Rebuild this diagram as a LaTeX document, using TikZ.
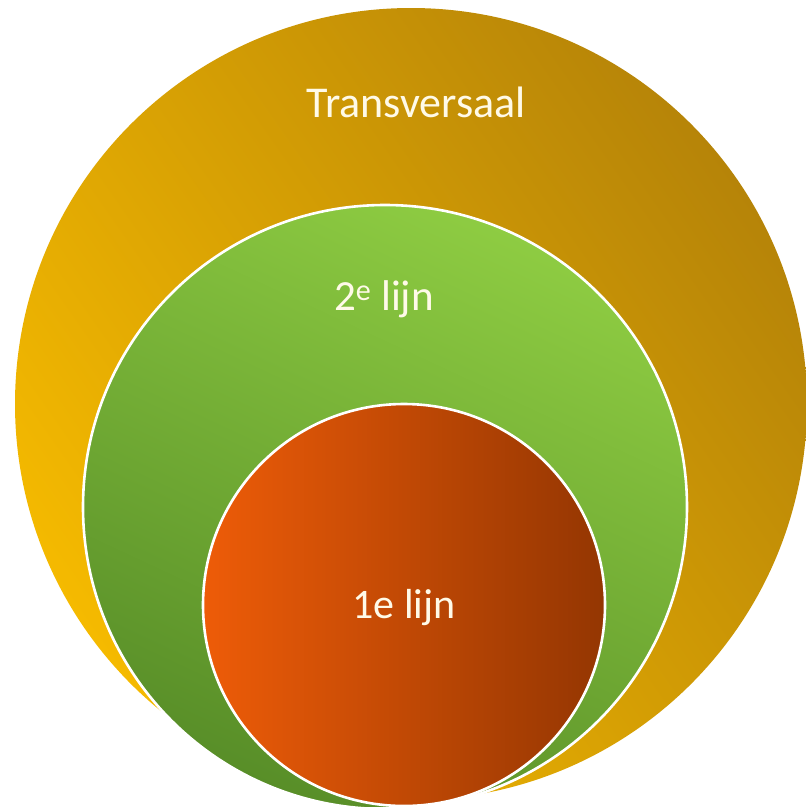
\documentclass[tikz,border=0pt]{standalone}
\usepackage{fontspec}
\setmainfont{Carlito}
\definecolor{goldL}{RGB}{245,186,0}
\definecolor{goldD}{RGB}{182,132,8}
\definecolor{greenL}{RGB}{142,204,66}
\definecolor{greenD}{RGB}{88,142,40}
\definecolor{redL}{RGB}{238,92,8}
\definecolor{redD}{RGB}{148,54,2}
\definecolor{txt}{RGB}{255,250,232}
\tikzset{
  ring/.style={draw=white, line width=2.6pt},
  lbl/.style={text=txt, inner sep=0pt, anchor=base}
}
\begin{document}
\begin{tikzpicture}[x=1pt,y=-1pt]
\useasboundingbox (0,0) rectangle (806,807);
\begin{scope}
\clip (0,0) rectangle (806,807);
\shade[top color=goldD, bottom color=goldL, shading angle=-55] (411,404) circle[radius=396];
\shade[ring, top color=greenL, bottom color=greenD, shading angle=-25] (385,507) circle[radius=302];
\shade[ring, left color=redL, right color=redD] (404,605) circle[radius=201];
\end{scope}
\node[lbl, font=\fontsize{44}{50}\selectfont] (t) at (416,117) {Transversaal};
\node[lbl, font=\fontsize{43}{50}\selectfont] (s) at (384,310) {2\textsuperscript{e} lijn};
\node[lbl, font=\fontsize{42}{50}\selectfont] (f) at (404,618) {1e lijn};
\end{tikzpicture}
\end{document}
